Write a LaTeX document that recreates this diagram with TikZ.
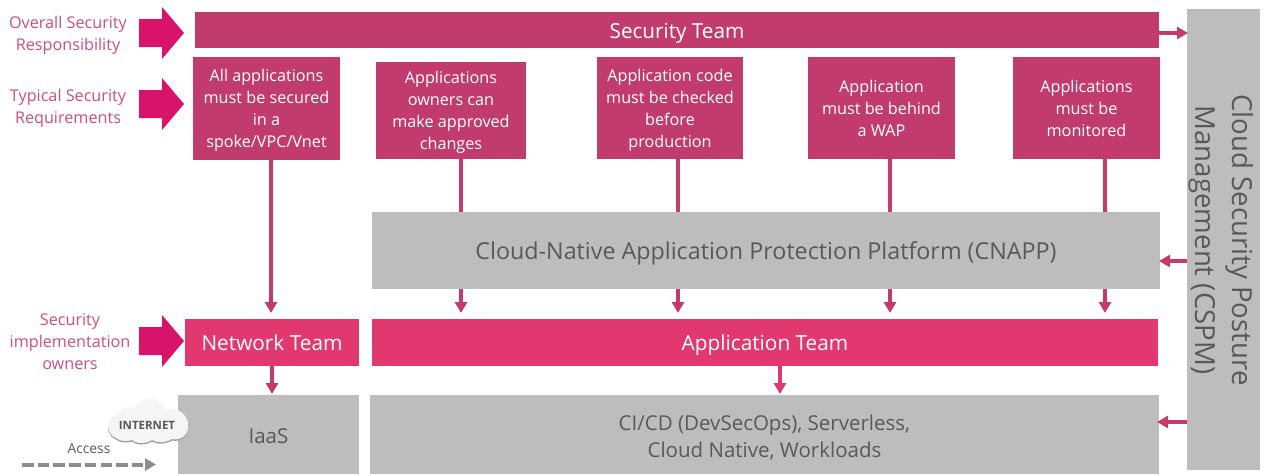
\documentclass[tikz,border=0pt]{standalone}
\usepackage{fontspec}
\setmainfont{Open Sans}
\usetikzlibrary{arrows.meta,positioning,calc}
\definecolor{secrose}{HTML}{C13C6C}
\definecolor{approse}{HTML}{E0386F}
\definecolor{blockrose}{HTML}{D9126A}
\definecolor{labelrose}{HTML}{CB4F7C}
\definecolor{panelgrey}{HTML}{BDBDBD}
\definecolor{inkgrey}{HTML}{595959}
\definecolor{dashgrey}{HTML}{8C8C8C}
\setlength{\tabcolsep}{0pt}
\def\liftamt{0pt}
\newcommand{\lines}[1]{\vbox{\kern\liftamt\kern\liftamt\hbox{\begin{tabular}{@{}c@{}}#1\end{tabular}}}}
\tikzset{
  x=1pt,y=-1pt,
  box/.style={minimum width=#1,inner sep=0pt,outer sep=0pt,anchor=north west,align=center},
  secbox/.style={fill=secrose,text=white,font=\fontsize{16.2}{22}\selectfont\def\liftamt{2pt}},
  appbox/.style={fill=approse,text=white,font=\fontsize{20.8}{24}\selectfont\def\liftamt{3pt}},
  panel/.style={fill=panelgrey,text=inkgrey,font=\fontsize{20.5}{27}\selectfont\def\liftamt{4.5pt}},
  sidelabel/.style={text=labelrose,align=center,font=\fontsize{16.2}{22}\selectfont\def\liftamt{2pt},inner sep=0pt},
  conn/.style={draw=#1,line width=4pt,-{Triangle[length=11pt,width=12pt]}},
  blockarrow/.style={fill=blockrose,draw=none},
}
\newcommand{\rbox}[7]{% name, x1,y1,x2,y2, style, text
  \node[box=#4pt-#2pt,minimum height=#5pt-#3pt,#6] (#1) at (#2,#3) {\lines{#7}};}
\newcommand{\blockarr}[1]{%
  \fill[blockrose] (139,#1-14) -- (162,#1-14) -- (162,#1-26) -- (184,#1) -- (162,#1+26) -- (162,#1+14) -- (139,#1+14) -- cycle;}
\begin{document}
\begin{tikzpicture}
\useasboundingbox (0,0) rectangle (1264,475);
% panels
\rbox{sec}{195}{12}{1159}{48}{secbox,font=\fontsize{20.7}{24}\selectfont\def\liftamt{4pt}}{Security Team}
\rbox{cspm}{1187}{9}{1260}{470}{panel}{}
\node[rotate=-90,text=inkgrey,inner sep=0pt,font=\fontsize{27.6}{37}\selectfont] (cspmtext) at (1221,240) {\lines{Cloud Security Posture\\Management (CSPM)}};
\rbox{ra}{193}{57}{340}{160}{secbox}{All applications\\must be secured\\in a\\spoke/VPC/Vnet}
\rbox{rb}{376}{62}{526}{159}{secbox}{Applications\\owners can\\make approved\\changes}
\rbox{rc}{597}{57}{743}{159}{secbox}{Application code\\must be checked\\before\\production}
\rbox{rd}{808}{57}{955}{159}{secbox}{Application\\must be behind\\a WAP}
\rbox{re}{1013}{57}{1160}{159}{secbox}{Applications\\must be\\monitored}
\rbox{cnapp}{372}{212}{1160}{289}{panel,font=\fontsize{23.3}{28}\selectfont\def\liftamt{3pt}}{Cloud-Native Application Protection Platform (CNAPP)}
\rbox{net}{185}{319}{359}{366}{appbox}{Network Team}
\rbox{app}{372}{319}{1158}{366}{appbox}{Application Team}
\rbox{iaas}{178}{395}{359}{474}{panel,font=\fontsize{20.5}{27}\selectfont\def\liftamt{4pt}}{IaaS}
\rbox{cicd}{370}{395}{1159}{474}{panel}{CI/CD (DevSecOps), Serverless,\\Cloud Native, Workloads}
% column guides
\coordinate (c0) at (271,0);
\coordinate (c0b) at (272,0);
\coordinate (c1) at (461,0);
\coordinate (c2) at (678,0);
\coordinate (c3) at (890,0);
\coordinate (c4) at (1105,0);
\coordinate (c5) at (780,0);
\coordinate (h1) at (0,33);
\coordinate (h2) at (0,261);
\coordinate (h3) at (0,422);
% connectors
\draw[conn=secrose,shorten >=-1pt] (sec.east |- h1) -- (cspm.west |- h1);
\draw[conn=secrose,shorten >=6pt] (ra.south -| c0) -- (net.north -| c0);
\foreach \r/\c in {rb/c1,rc/c2,rd/c3,re/c4}{
  \draw[draw=secrose,line width=4pt] (\r.south -| \c) -- (cnapp.north -| \c);
  \draw[conn=secrose,shorten >=6pt] (cnapp.south -| \c) -- (app.north -| \c);
}
\draw[conn=secrose,shorten >=-1pt] (cspm.west |- h2) -- (cnapp.east |- h2);
\draw[conn=secrose,shorten >=-2pt] (cspm.west |- h3) -- (cicd.east |- h3);
\draw[conn=secrose,shorten >=1pt] (net.south -| c0b) -- (iaas.north -| c0b);
\draw[conn=approse,shorten >=1pt] (app.south -| c5) -- (cicd.north -| c5);
% block arrows
\blockarr{33}
\blockarr{104}
\blockarr{341}
% side labels
\node[sidelabel] (l1) at (68,33) {\lines{Overall Security\\Responsibility}};
\node[sidelabel] (l2) at (68,106) {\lines{Typical Security\\Requirements}};
\node[sidelabel] (l3) at (70,341) {\lines{Security\\implementation\\owners}};
% cloud
\def\cloudpath{(116,438) .. controls (106,434) and (104,419) .. (118,414)
  .. controls (121,406) and (130,406) .. (134,409)
  .. controls (141,395) and (160,395) .. (165,410)
  .. controls (176,405) and (189,415) .. (188,426)
  .. controls (189,435) and (180,441) .. (172,439)
  .. controls (166,443) and (156,443) .. (152,440)
  .. controls (146,444) and (136,444) .. (132,440)
  .. controls (126,442) and (120,441) .. (116,438) -- cycle}
\fill[gray!75,yshift=-1.5pt] \cloudpath;
\fill[white!96!black] \cloudpath;
\node[text=inkgrey,font=\bfseries\fontsize{11.5}{14}\selectfont] (inet) at (147,425) {INTERNET};
% access
\coordinate (acca) at (22,464.5);
\coordinate (accb) at (156,464.5);
\node[text=inkgrey,font=\fontsize{13.8}{16}\selectfont] (acc) at (89,449) {Access};
\draw[draw=dashgrey,line width=4pt,dash pattern=on 11.5pt off 4.2pt,-{Triangle[length=11pt,width=12pt]}] (acca) -- (accb);
\end{tikzpicture}
\end{document}
